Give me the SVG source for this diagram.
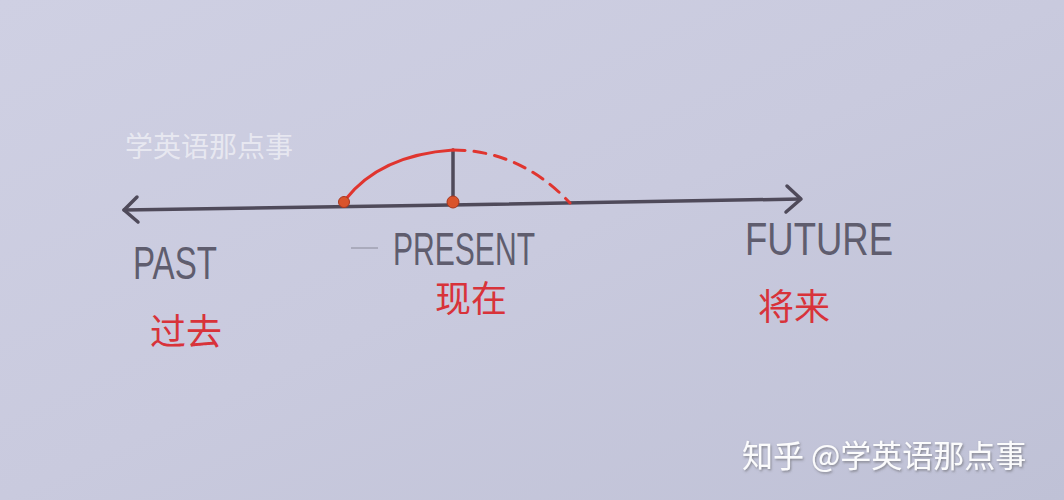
<svg xmlns="http://www.w3.org/2000/svg" width="1064" height="500" viewBox="0 0 1064 500">
<defs>
<linearGradient id="bg" x1="0" y1="0" x2="1" y2="1">
<stop offset="0" stop-color="#cfd0e3"/>
<stop offset="0.5" stop-color="#c9cade"/>
<stop offset="1" stop-color="#bfc1d6"/>
</linearGradient>
<filter id="sh" x="-5%" y="-20%" width="110%" height="140%">
<feDropShadow dx="1" dy="1.5" stdDeviation="1" flood-color="#555" flood-opacity="0.6"/>
</filter>
</defs>
<style>
.en{font-family:"Liberation Sans",Arial,sans-serif;fill:#5f5d6e;font-size:47px;}
.cn{font-family:"Noto Sans CJK SC",sans-serif;fill:#d8333a;font-size:36px;}
.axis{stroke:#4f4a5a;stroke-width:3.5;fill:none;stroke-linecap:round;stroke-linejoin:round;}
.red{stroke:#e0352f;stroke-width:3;fill:none;stroke-linecap:round;}
.wm{font-family:"Noto Sans CJK SC",sans-serif;fill:#ffffff;}
</style>
<rect width="1064" height="500" fill="url(#bg)"/>
<text class="wm" x="125" y="157" font-size="28" fill-opacity="0.55">学英语那点事</text>
<g id="connectors">
<path class="axis" d="M124 210 L450 205 L800 199"/>
<path class="axis" d="M137 197 L124 210 L138 222"/>
<path class="axis" d="M787 186 L801 199 L786 212"/>
<path class="axis" stroke-width="2.5" d="M453 150 L453 202"/>
<path class="red" d="M345 200 Q380 155 453 150"/>
<path class="red" stroke-dasharray="12 9" d="M453 150 Q520 150 570 203"/>
<path stroke="#8a8a99" stroke-width="1" d="M351 248 L378 248"/>
</g>
<g id="dot-start"><circle cx="344" cy="202" r="5.5" fill="#d9542c" stroke="#a8361e" stroke-width="1"/></g>
<g id="dot-present"><circle cx="453" cy="202" r="6" fill="#d9542c" stroke="#a8361e" stroke-width="1"/></g>
<g id="past"><text class="en" x="133" y="279" textLength="84" lengthAdjust="spacingAndGlyphs">PAST</text><text class="cn" x="150" y="345">过去</text></g>
<g id="present"><text class="en" x="393" y="265" textLength="142" lengthAdjust="spacingAndGlyphs">PRESENT</text><text class="cn" x="435" y="312">现在</text></g>
<g id="future"><text class="en" x="745" y="255" textLength="148" lengthAdjust="spacingAndGlyphs">FUTURE</text><text class="cn" x="758" y="320" font-size="40">将来</text></g>
<text class="wm" x="742" y="467" font-size="31" filter="url(#sh)" fill-opacity="0.95">知乎 @学英语那点事</text>
</svg>
